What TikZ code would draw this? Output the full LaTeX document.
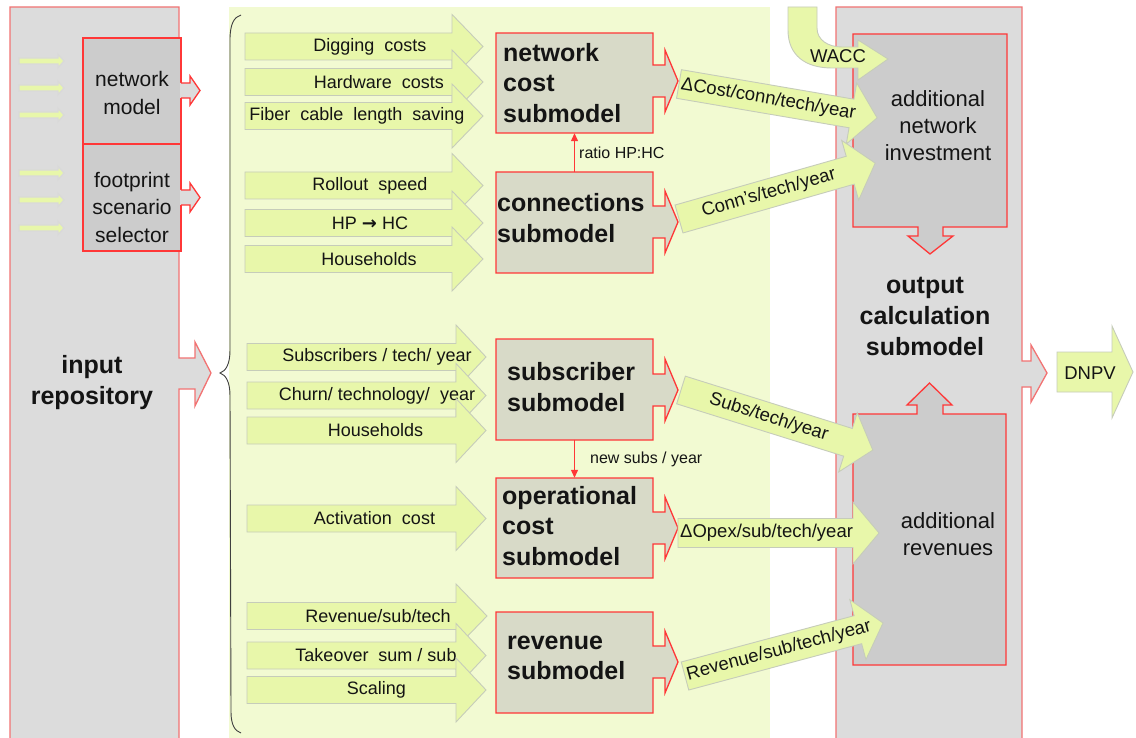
\documentclass[tikz,border=0pt]{standalone}
\usepackage{fontspec}
\setmainfont{Liberation Sans}
\newfontfamily\djv{DejaVu Sans}
\usetikzlibrary{arrows.meta}
\definecolor{bgg}{RGB}{242,250,210}
\definecolor{lime}{RGB}{232,247,170}
\definecolor{limeline}{RGB}{198,204,186}
\definecolor{gouter}{RGB}{220,220,220}
\definecolor{ginner}{RGB}{204,204,204}
\definecolor{subf}{RGB}{216,218,200}
\definecolor{redb}{RGB}{255,55,55}
\definecolor{redl}{RGB}{242,115,115}
\definecolor{txt}{RGB}{20,20,20}
\tikzset{
  limearrow/.style={fill=lime, draw=limeline, line width=0.9pt, line join=miter},
  smallarrow/.style={fill=lime, draw=black!15, line width=1.2pt},
  redbox/.style={fill=subf, draw=redb, line width=1.3pt},
  boxnode/.style={draw=none, minimum width=157pt, minimum height=100pt, inner sep=0pt},
  boxtxt/.style={text=txt, font=\fontsize{25}{30.5}\selectfont\bfseries, align=left, inner sep=0pt, anchor=west},
  intext/.style={text=txt, font=\fontsize{18}{21}\selectfont, inner sep=0pt},
  outtext/.style={text=txt, font=\fontsize{18.5}{21}\selectfont, inner sep=0pt},
  bigtxt/.style={text=txt, font=\fontsize{25}{31}\selectfont\bfseries, align=center, inner sep=0pt},
  midtxt/.style={text=txt, font=\fontsize{22}{27}\selectfont, align=center, inner sep=0pt},
  lefttxt/.style={text=txt, font=\fontsize{21}{27.5}\selectfont, align=center, inner sep=0pt},
  smalltxt/.style={text=txt, font=\fontsize{16}{18}\selectfont, inner sep=0pt, anchor=west},
  redconn/.style={draw=redb, line width=1.2pt, -{Triangle[length=8pt,width=7pt]}},
}
\newcommand\inarr[7]{%
  \filldraw[limearrow] (#3,#2-13.5) -- (#4,#2-13.5) -- (#4,#2-32) -- (#5,#2) -- (#4,#2+32) -- (#4,#2+13.5) -- (#3,#2+13.5) -- cycle;
  \node[intext] (#1) at (#6,#2) {#7};}
\newcommand\outarr[7]{%
  \begin{scope}[shift={(#2,#3)},rotate=#4]
  \filldraw[limearrow] (0,-14.5) -- (#5-26,-14.5) -- (#5-26,-31) -- (#5,0) -- (#5-26,31) -- (#5-26,14.5) -- (0,14.5) -- cycle;
  \node[outtext, anchor=west, rotate=#4] (#1) at (#6,0) {#7};
  \end{scope}}
\newcommand\subshape[3]{%
  \filldraw[redbox] (496,#1) -- (653,#1) -- (653,#3-16) -- (665,#3-16) -- (665,#3-31) -- (678,#3) -- (665,#3+31) -- (665,#3+16) -- (653,#3+16) -- (653,#2) -- (496,#2) -- cycle;}
\newcommand\smallarr[1]{%
  \filldraw[smallarrow] (19,#1-3) -- (58,#1-3) -- (58,#1-6.5) -- (64,#1) -- (58,#1+6.5) -- (58,#1+3) -- (19,#1+3) -- cycle;}
\begin{document}
\begin{tikzpicture}[x=1pt,y=-1pt]
\useasboundingbox (0,0) rectangle (1136,738);
\fill[white] (0,0) rectangle (1136,738);
% light green background
\fill[bgg] (229,7) rectangle (770,738);
% input repository
\filldraw[fill=gouter, draw=redl, line width=1.3pt] (10,738) -- (10,7) -- (179,7) -- (179,358) -- (195,358) -- (195,342) -- (211,373) -- (195,406) -- (195,389) -- (179,389) -- (179,738);
\node[bigtxt] (inrep) at (92,383) {input\\repository};
% network model / footprint
\filldraw[fill=ginner, draw=redb, line width=1.3pt] (83,38) rectangle (181,144);
\filldraw[fill=ginner, draw=redb, line width=1.3pt] (83,144) rectangle (181,251);
\fill[gouter] (180,83) -- (190,83) -- (190,76) -- (200,90.5) -- (190,105) -- (190,98) -- (180,98) -- cycle;
\draw[draw=redb, line width=1.3pt] (181,83) -- (190,83) -- (190,76) -- (200,90.5) -- (190,105) -- (190,98) -- (181,98);
\fill[gouter] (180,190) -- (190,190) -- (190,183) -- (200,197.5) -- (190,212) -- (190,205) -- (180,205) -- cycle;
\draw[draw=redb, line width=1.3pt] (181,190) -- (190,190) -- (190,183) -- (200,197.5) -- (190,212) -- (190,205) -- (181,205);
\node[lefttxt] (netmod) at (132,93) {network\\model};
\node[lefttxt] (foot) at (132,207) {footprint\\scenario\\selector};
\smallarr{61}\smallarr{88}\smallarr{115}\smallarr{173}\smallarr{200}\smallarr{228}
% brace
\draw[black!75, line width=0.9pt] (241,15) .. controls (234,17) and (230,24) .. (230,40) -- (230,350) .. controls (230,364) and (226,371) .. (220,373) .. controls (226,375) and (230,382) .. (230,396) -- (231,712) .. controls (231,725) and (235,731) .. (241,733);
% input arrows
\inarr{dig}{46.5}{245}{452}{483}{370}{Digging\ \ costs}
\inarr{hw}{82}{245}{452}{483}{379}{Hardware\ \ costs}
\inarr{fib}{116}{245}{452}{483}{357}{Fiber\ \ cable\ \ length\ \ saving}
\inarr{roll}{185.5}{245}{452}{483}{370}{Rollout\ \ speed}
\inarr{hphc}{223}{245}{452}{483}{370}{HP {\djv\bfseries →} HC}
\inarr{hh1}{259}{245}{452}{483}{369}{Households}
\inarr{subsin}{357}{247}{456}{486}{377}{Subscribers / tech/ year}
\inarr{churn}{395.5}{247}{456}{486}{377}{Churn/ technology/\ \ year}
\inarr{hh2}{430.5}{247}{456}{486}{375.5}{Households}
\inarr{act}{518.5}{247}{456}{486}{374.5}{Activation\ \ cost}
\inarr{revin}{616}{247}{456}{487}{378}{Revenue/sub/tech}
\inarr{take}{655.5}{247}{456}{486}{376}{Takeover\ \ sum / sub}
\inarr{scal}{690}{247}{456}{486}{376.5}{Scaling}
% submodel boxes
\subshape{33}{133}{81}
\subshape{172}{273}{222}
\subshape{339}{440}{390}
\subshape{478}{578}{528}
\subshape{612}{713}{662}
\node[boxnode] (netc) at (574.5,83) {};
\node[boxnode] (conn) at (574.5,222.5) {};
\node[boxnode] (subm) at (574.5,389.5) {};
\node[boxnode] (opc) at (574.5,528) {};
\node[boxnode] (revm) at (574.5,662.5) {};
\node[boxtxt] (netct) at (503,83) {network\\cost\\submodel};
\node[boxtxt] (connt) at (497,218) {connections\\submodel};
\node[boxtxt] (submt) at (507,387) {subscriber\\submodel};
\node[boxtxt] (opct) at (502,526) {operational\\cost\\submodel};
\node[boxtxt] (revmt) at (507,658) {revenue\\submodel};
% connectors between submodels
\draw[redconn] (conn.north) -- (netc.south);
\node[smalltxt] (ratio) at (579,153) {ratio HP:HC};
\draw[redconn] (subm.south) -- (opc.north);
\node[smalltxt] (newsubs) at (590,459) {new subs / year};
% output calculation box
\filldraw[fill=gouter, draw=redl, line width=1.3pt] (836,738) -- (836,7) -- (1022,7) -- (1022,361) -- (1031,361) -- (1031,345) -- (1047,373) -- (1031,402) -- (1031,387) -- (1022,387) -- (1022,738);
\filldraw[fill=ginner, draw=redb, line width=1.3pt] (853,34) -- (1007,34) -- (1007,227) -- (943,227) -- (943,236) -- (953,236) -- (930,254) -- (908,236) -- (918,236) -- (918,227) -- (853,227) -- cycle;
\filldraw[fill=ginner, draw=redb, line width=1.3pt] (853,665) -- (853,414) -- (917,414) -- (917,405) -- (907,405) -- (929.5,383) -- (952,405) -- (943,405) -- (943,414) -- (1006,414) -- (1006,665) -- cycle;
\node[midtxt] (addnet) at (938,126) {additional\\network\\investment};
\node[midtxt] (addrev) at (948,534) {additional\\revenues};
\node[bigtxt] (outc) at (925,316) {output\\calculation\\submodel};
% WACC arrow
\filldraw[limearrow] (788,7) -- (788,30) .. controls (788,55) and (805,68) .. (832,68) -- (858,68) -- (858,80) -- (888,59) -- (858,40) -- (858,47) -- (842,47) .. controls (828,47) and (817,40) .. (817,28) -- (817,7) -- cycle;
\node[outtext] (wacc) at (838,56) {WACC};
% output arrows
\outarr{dcost}{679}{84}{-9.7}{201}{2}{ΔCost/conn/tech/year}
\outarr{conns}{679}{219}{15.9}{204}{24}{Conn’s/tech/year}
\outarr{subst}{681}{390}{-17.4}{201}{30}{Subs/tech/year}
\outarr{dopex}{678}{533}{0}{201}{2}{ΔOpex/sub/tech/year}
\outarr{revst}{685}{676}{15}{205}{2}{Revenue/sub/tech/year}
% DNPV
\filldraw[limearrow] (1057,352) -- (1112,352) -- (1112,326) -- (1133,372) -- (1112,418) -- (1112,392) -- (1057,392) -- cycle;
\node[outtext] (dnpv) at (1090,373) {DNPV};
\end{tikzpicture}
\end{document}
